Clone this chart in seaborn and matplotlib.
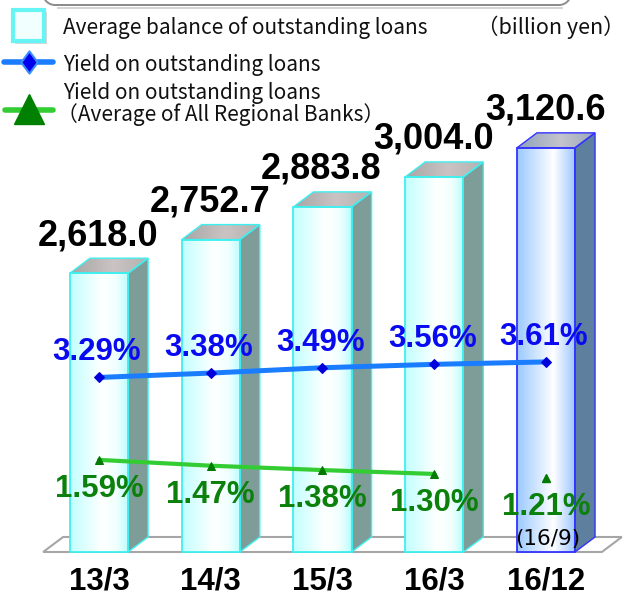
import numpy as np
import pandas as pd
import matplotlib
matplotlib.use("Agg")
import matplotlib.pyplot as plt
import matplotlib.transforms as mtransforms
from matplotlib.colors import LinearSegmentedColormap
from matplotlib.patches import Polygon, Rectangle, Arc
from matplotlib.lines import Line2D
from matplotlib.path import Path
import seaborn as sns

# ---- data -------------------------------------------------------------
periods = ["13/3", "14/3", "15/3", "16/3", "16/12"]
balance = [2618.0, 2752.7, 2883.8, 3004.0, 3120.6]          # billion yen
yield_bank = [3.29, 3.38, 3.49, 3.56, 3.61]                  # %
yield_regional = [1.59, 1.47, 1.38, 1.30]                    # % (13/3 .. 16/3)
yield_regional_latest = 1.21                                 # % (as of 16/9)
latest_note = "(16/9)"

legend_balance = "Average balance of outstanding loans"
legend_yield = "Yield on outstanding loans"
legend_regional = ["Yield on outstanding loans", "（Average of All Regional Banks）"]
unit_label = "（billion yen）"

# ---- styling ----------------------------------------------------------
BASE = 1500                      # floor level of the bar chart
W, H = 628, 597
DEPTH_X, DEPTH_Y = 20, 15        # 3D depth of the bars in pixels

sns.set_theme(style="white")
plt.rcParams["font.family"] = ["Liberation Sans", "DejaVu Sans"]
CJK = ["Noto Sans CJK JP", "DejaVu Sans"]

fig = plt.figure(figsize=(W / 100, H / 100), dpi=100)
ax = fig.add_axes([0, 0, 1, 1])

XLIM = (-0.886, 4.734)
YLIM = (1319.5, 3713.5)
Y2LIM = (-1.237, 11.072)

df = pd.DataFrame({"period": periods, "balance": balance})
sns.barplot(data=df, x="period", y="balance", ax=ax, width=0.52,
            color="white", edgecolor="#3ef0f0", linewidth=1.3, zorder=3)
bars = list(ax.patches)
ax.set_xlim(*XLIM)
ax.set_ylim(*YLIM)

# data units per pixel
ux = (XLIM[1] - XLIM[0]) / W
uy = (YLIM[1] - YLIM[0]) / H
ddx, ddy = DEPTH_X * ux, DEPTH_Y * uy


def hgrad(stops, n=256):
    cmap = LinearSegmentedColormap.from_list("g", stops)
    return cmap(np.linspace(0, 1, n))[None, :, :]


styles = {
    "normal": dict(front=[(0, "#c2ffff"), (0.55, "#ffffff"), (0.8, "#f0ffff"), (1, "#b8fdfd")],
                   top=[(0, "#a6a6a6"), (0.55, "#cbc3c3"), (1, "#b2b2b2")],
                   side="#7e9d99", edge="#3ef0f0"),
    "latest": dict(front=[(0, "#9cc8ff"), (0.62, "#ffffff"), (1, "#98c4ff")],
                   top=[(0, "#8da2bd"), (0.55, "#c4c4cc"), (1, "#9aa8bb")],
                   side="#5f7f9e", edge="#3333ff"),
}

# floor
n = len(periods)
floor = Polygon([(-0.5, BASE), (n - 0.5, BASE), (n - 0.5 + ddx, BASE + ddy),
                 (-0.5 + ddx, BASE + ddy)], closed=True, facecolor="white",
                edgecolor="#a6a6a6", linewidth=1.5, zorder=1)
ax.add_patch(floor)

for i, p in enumerate(bars):
    val = p.get_height()
    st = styles["latest" if i == n - 1 else "normal"]
    p.set_y(BASE)
    p.set_height(val - BASE)
    p.set_facecolor("none")
    p.set_edgecolor(st["edge"])
    x0, x1 = p.get_x(), p.get_x() + p.get_width()
    y0, y1 = BASE, val

    im = ax.imshow(hgrad(st["front"]), extent=(x0, x1, y0, y1), aspect="auto",
                   origin="lower", interpolation="bilinear", zorder=2)
    im.set_clip_path(p)

    side = Polygon([(x1, y0), (x1 + ddx, y0 + ddy), (x1 + ddx, y1 + ddy), (x1, y1)],
                   closed=True, facecolor=st["side"], edgecolor=st["edge"],
                   linewidth=1.0, zorder=2.6)
    ax.add_patch(side)

    top = Polygon([(x0, y1), (x0 + ddx, y1 + ddy), (x1 + ddx, y1 + ddy), (x1, y1)],
                  closed=True, facecolor="none", edgecolor=st["edge"],
                  linewidth=1.0, zorder=2.7)
    ax.add_patch(top)
    imt = ax.imshow(hgrad(st["top"]), extent=(x0, x1 + ddx, y1, y1 + ddy),
                    aspect="auto", origin="lower", interpolation="bilinear", zorder=2.5)
    imt.set_clip_path(top)

    ax.annotate(f"{val:,.1f}", xy=((x0 + x1) / 2, val), xytext=(-1, 28),
                textcoords="offset pixels", ha="center", va="baseline",
                fontsize=26, fontweight="bold", color="black", zorder=5)

ax.set_xlim(*XLIM)
ax.set_ylim(*YLIM)
ax.axis("off")

# category labels under the floor
lab_tr = mtransforms.blended_transform_factory(ax.transData, ax.transAxes)
for i, lab in enumerate(periods):
    ax.text(i, 1 - 590 / H, lab, transform=lab_tr, ha="center", va="baseline",
            fontsize=22.5, fontweight="bold", color="black")

# ---- yield lines on a secondary axis ---------------------------------
ax2 = ax.twinx()
xpos = np.arange(n)
sns.lineplot(x=xpos, y=yield_bank, ax=ax2, color="#1a7cff", linewidth=3.6,
             marker="D", markersize=5, markerfacecolor="#0000dd",
             markeredgecolor="#0000dd", zorder=6)
sns.lineplot(x=xpos[:len(yield_regional)], y=yield_regional, ax=ax2,
             color="#33cc33", linewidth=3.0, marker="^", markersize=6,
             markerfacecolor="#007a00", markeredgecolor="#007a00", zorder=6)
ax2.plot([xpos[-1]], [yield_regional_latest], linestyle="none", marker="^",
         markersize=6, color="#007a00", zorder=6)
ax2.set_xlim(*XLIM)
ax2.set_ylim(*Y2LIM)
ax2.axis("off")

for i, v in enumerate(yield_bank):
    ax2.annotate(f"{v:.2f}%", xy=(i, v), xytext=(-2, 25), textcoords="offset pixels",
                 ha="center", va="center", fontsize=22.5, fontweight="bold",
                 color="#0a0af0", zorder=7)
for i, v in enumerate(yield_regional + [yield_regional_latest]):
    ax2.annotate(f"{v:.2f}%", xy=(i, v), xytext=(0, -29), textcoords="offset pixels",
                 ha="center", va="center", fontsize=22.5, fontweight="bold",
                 color="#0b800b", zorder=7)
ax2.annotate(latest_note, xy=(n - 1, yield_regional_latest), xytext=(2, -61),
             textcoords="offset pixels", ha="center", va="center",
             fontsize=15.5, family="DejaVu Sans", color="black", zorder=7)

# ---- legend and header (figure pixel coordinates) --------------------
px = mtransforms.Affine2D().scale(1 / W, -1 / H).translate(0, 1) + fig.transFigure

# rounded frame peeking in at the top: bottom edge, soft shadow, corners
fig.add_artist(Rectangle((57, 6.5), 506, 2.5, transform=px, facecolor="#d4d4d4",
                         edgecolor="none", zorder=1))
fig.add_artist(Rectangle((55, 4), 505, 1.8, transform=px, facecolor="#8c8c8c",
                         edgecolor="none", zorder=1.1))
fig.add_artist(Rectangle((43, 0), 1.8, 0, transform=px, facecolor="#8c8c8c",
                         edgecolor="none", zorder=1.1))
for cx, t1, t2 in [(55, 90, 180), (559, 0, 90)]:
    fig.add_artist(Arc((cx, -7), 24, 24, theta1=t1, theta2=t2, transform=px,
                       color="#8c8c8c", linewidth=1.4, zorder=1.1))

# bar swatch
fig.add_artist(Rectangle((15, 12), 32, 32, transform=px, facecolor="#d8d8d8",
                         edgecolor="none", zorder=1))
fig.add_artist(Rectangle((13, 10), 31, 31, transform=px, facecolor="#f2ffff",
                         edgecolor="#66f4f4", linewidth=3, zorder=2))

tall_diamond = Path([(0, 1.35), (1, 0), (0, -1.35), (-1, 0), (0, 1.35)],
                    [Path.MOVETO, Path.LINETO, Path.LINETO, Path.LINETO, Path.CLOSEPOLY])
fig.add_artist(Line2D([4, 53], [62, 62], transform=px, color="#1a7cff", linewidth=4))
fig.add_artist(Line2D([29], [62], transform=px, marker=tall_diamond, markersize=16,
                      markerfacecolor="#0000ee", markeredgecolor="#3a8cff",
                      markeredgewidth=1.5, linestyle="none"))
fig.add_artist(Line2D([5, 53], [110, 110], transform=px, color="#33cc33", linewidth=4))
fig.add_artist(Line2D([29], [109], transform=px, marker="^", markersize=21,
                      markerfacecolor="#008000", markeredgecolor="#008000",
                      linestyle="none"))

legend_kw = dict(transform=px, fontsize=15, family=CJK, color="#111111",
                 ha="left", va="baseline")
fig.text(63, 34, legend_balance, **legend_kw)
fig.text(63, 71, legend_yield, **legend_kw)
fig.text(63, 99, legend_regional[0], **legend_kw)
fig.text(57, 121, legend_regional[1], **legend_kw)
fig.text(625, 34, unit_label, transform=px, fontsize=15.5, family=CJK,
         color="#111111", ha="right", va="baseline")

fig.savefig("out.png", dpi=100)
